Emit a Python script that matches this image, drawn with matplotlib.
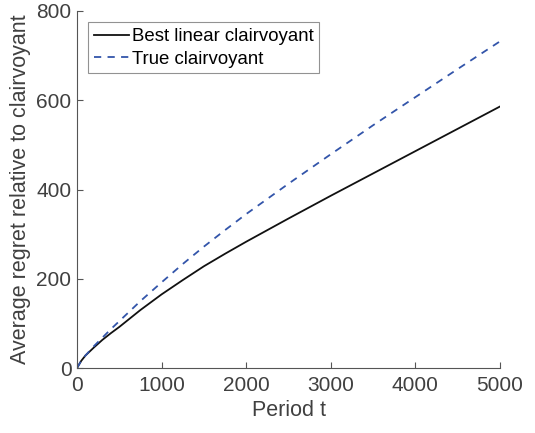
import matplotlib
matplotlib.use("Agg")
import matplotlib.pyplot as plt
import numpy as np

plt.rcParams['font.family'] = ['Liberation Sans', 'DejaVu Sans']

# Average regret over time for the two benchmarks
periods = [0, 50, 100, 200, 300, 400, 500, 750, 1000, 1250, 1500, 1750, 2000,
           2500, 3000, 3500, 4000, 4500, 5000]
best_linear = [0, 16, 28, 46, 63, 78, 92, 130, 165, 197, 228, 256, 283,
               335, 386, 436, 486, 536, 586]
true_clairvoyant = [0, 16, 28, 49, 68, 87, 105, 150, 192, 233, 272, 309, 345,
                    413, 479, 544, 607, 670, 732]

x_ticks = [0, 1000, 2000, 3000, 4000, 5000]
y_ticks = [0, 200, 400, 600, 800]

text_gray = '#404040'
axis_gray = '#555555'

fig = plt.figure(figsize=(5.35, 4.33), dpi=100)
ax = fig.add_axes([77 / 535, (433 - 368) / 433, (500 - 77) / 535, (368 - 11) / 433])

ax.plot(periods, best_linear, color='#111111', lw=1.3, label='Best linear clairvoyant')
ax.plot(periods, true_clairvoyant, color='#3355aa', lw=1.3, ls=(0, (4, 3.5)),
        label='True clairvoyant')

ax.set_xlim(0, 5000)
ax.set_ylim(0, 800)
ax.set_xticks(x_ticks)
ax.set_yticks(y_ticks)
ax.tick_params(direction='in', length=4, width=0.8, colors=axis_gray,
               labelcolor=text_gray, labelsize=15)
ax.tick_params(axis='x', pad=6)
ax.tick_params(axis='y', pad=4)
for side in ('top', 'right'):
    ax.spines[side].set_visible(False)
for side in ('left', 'bottom'):
    ax.spines[side].set_color(axis_gray)
    ax.spines[side].set_linewidth(0.8)

ax.set_xlabel('Period t', fontsize=15.5, color=text_gray, labelpad=3)
ax.set_ylabel('Average regret relative to clairvoyant', fontsize=15.5,
              color=text_gray, labelpad=4)

leg = ax.legend(loc='upper left', bbox_to_anchor=(0.027, 0.968), fontsize=13.4,
                frameon=True, fancybox=False, edgecolor='#777777',
                handlelength=1.9, handletextpad=0.12, borderpad=0.3,
                labelspacing=0.3, borderaxespad=0)
leg.get_frame().set_linewidth(0.8)

fig.savefig('out.png', dpi=100)
